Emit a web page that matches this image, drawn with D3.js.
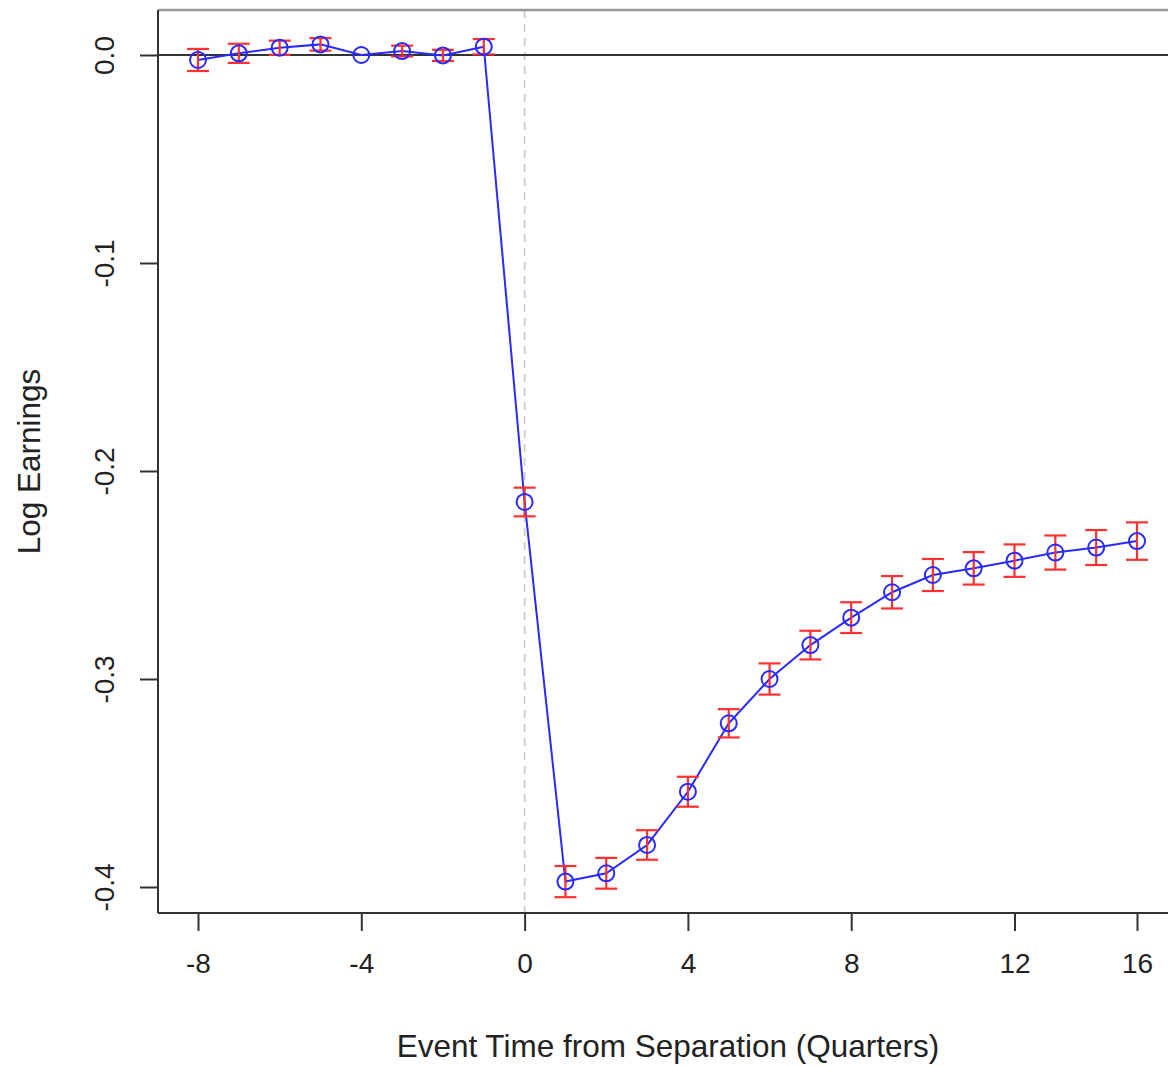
<!DOCTYPE html>
<html>
<head>
<meta charset="utf-8">
<script src="https://cdn.jsdelivr.net/npm/d3@7"></script>
<style>
  body { margin: 0; background: #fff; }
  text { font-family: "Liberation Sans", Arial, sans-serif; fill: #222; }
</style>
</head>
<body>
<div id="chart"></div>
<script>
// event time (quarters) and estimates
const eventTime = [-8, -7, -6, -5, -4, -3, -2, -1, 0, 1, 2, 3, 4, 5, 6, 7, 8, 9, 10, 11, 12, 13, 14, 15];
const coef = [-0.0024, 0.0008, 0.0035, 0.0051, 0.0, 0.0019, -0.0002, 0.0040,
  -0.2149, -0.3974, -0.3934, -0.3798, -0.3542, -0.3213, -0.3000, -0.2837,
  -0.2705, -0.2583, -0.2500, -0.2468, -0.2431, -0.2392, -0.2368, -0.2337];
const halfCI = [0.0053, 0.0046, 0.0034, 0.0030, 0, 0.0026, 0.0027, 0.0037,
  0.0069, 0.0075, 0.0074, 0.0071, 0.0072, 0.0068, 0.0075, 0.0069,
  0.0074, 0.0078, 0.0077, 0.0078, 0.0078, 0.0082, 0.0084, 0.0090];
const xTickAt = [-8, -4, 0, 4, 8, 12, 15];
const xTickLabels = ['-8', '-4', '0', '4', '8', '12', '16'];
const yTicks = [0.0, -0.1, -0.2, -0.3, -0.4];

const data = eventTime.map((t, i) => ({ t: t, v: coef[i], e: halfCI[i] }));

const width = 1168, height = 1066;
const box = { left: 158, top: 10, right: 1185, bottom: 913 };

const svg = d3.select('#chart')
  .append('svg')
  .attr('width', width)
  .attr('height', height);

const x = d3.scaleLinear().domain([-8, 15]).range([198, 1137]);
const y = d3.scaleLinear().domain([-0.4125, 0.02163]).range([box.bottom, box.top]);

// dashed line at separation
svg.append('line')
  .attr('x1', x(0)).attr('x2', x(0))
  .attr('y1', box.top).attr('y2', box.bottom)
  .attr('stroke', '#c8c8c8')
  .attr('stroke-width', 1.6)
  .attr('stroke-dasharray', '8,6');

// zero line
svg.append('line')
  .attr('x1', box.left).attr('x2', box.right)
  .attr('y1', y(0)).attr('y2', y(0))
  .attr('stroke', '#333')
  .attr('stroke-width', 2);

// plot frame
svg.append('line')
  .attr('x1', box.left).attr('x2', box.right)
  .attr('y1', box.top).attr('y2', box.top)
  .attr('stroke', '#999').attr('stroke-width', 2.5);
svg.append('line')
  .attr('x1', box.left).attr('x2', box.left)
  .attr('y1', box.top).attr('y2', box.bottom)
  .attr('stroke', '#333').attr('stroke-width', 2);
svg.append('line')
  .attr('x1', box.left).attr('x2', box.right)
  .attr('y1', box.bottom).attr('y2', box.bottom)
  .attr('stroke', '#333').attr('stroke-width', 2);

// x axis
const xAxis = svg.append('g')
  .attr('transform', `translate(0,${box.bottom})`)
  .call(d3.axisBottom(x)
    .tickValues(xTickAt)
    .tickFormat((d, i) => xTickLabels[i])
    .tickSize(18)
    .tickPadding(22));
xAxis.select('.domain').remove();
xAxis.selectAll('line').attr('stroke', '#333').attr('stroke-width', 2);
xAxis.selectAll('text').attr('font-size', 28).attr('fill', '#222')
  .attr('font-family', '"Liberation Sans", Arial, sans-serif');

// y axis
const yAxis = svg.append('g')
  .attr('transform', `translate(${box.left},0)`)
  .call(d3.axisLeft(y)
    .tickValues(yTicks)
    .tickFormat(d => d.toFixed(1))
    .tickSize(18));
yAxis.select('.domain').remove();
yAxis.selectAll('line').attr('stroke', '#333').attr('stroke-width', 2);
yAxis.selectAll('text')
  .attr('font-size', 28).attr('fill', '#222')
  .attr('font-family', '"Liberation Sans", Arial, sans-serif')
  .attr('text-anchor', 'middle')
  .attr('dy', null)
  .attr('x', null)
  .attr('dominant-baseline', 'central')
  .attr('transform', 'translate(-54,0) rotate(-90)');

// axis titles
svg.append('text')
  .attr('x', 668).attr('y', 1046)
  .attr('text-anchor', 'middle')
  .attr('dominant-baseline', 'central')
  .attr('font-size', 31.5)
  .text('Event Time from Separation (Quarters)');

svg.append('text')
  .attr('transform', `translate(29,${(box.top + box.bottom) / 2}) rotate(-90)`)
  .attr('text-anchor', 'middle')
  .attr('dominant-baseline', 'central')
  .attr('font-size', 31.5)
  .text('Log Earnings');

// connecting line
svg.append('path')
  .datum(data)
  .attr('fill', 'none')
  .attr('stroke', '#2a2aff')
  .attr('stroke-width', 2)
  .attr('d', d3.line().x(d => x(d.t)).y(d => y(d.v)));

// error bars
const bars = svg.append('g')
  .attr('stroke', '#ff3030')
  .attr('stroke-width', 2.2)
  .selectAll('g')
  .data(data.filter(d => d.e > 0))
  .join('g');
bars.append('line')
  .attr('x1', d => x(d.t)).attr('x2', d => x(d.t))
  .attr('y1', d => y(d.v + d.e)).attr('y2', d => y(d.v - d.e));
bars.append('line')
  .attr('x1', d => x(d.t) - 11).attr('x2', d => x(d.t) + 11)
  .attr('y1', d => y(d.v + d.e)).attr('y2', d => y(d.v + d.e));
bars.append('line')
  .attr('x1', d => x(d.t) - 11).attr('x2', d => x(d.t) + 11)
  .attr('y1', d => y(d.v - d.e)).attr('y2', d => y(d.v - d.e));

// points
svg.append('g')
  .selectAll('circle')
  .data(data)
  .join('circle')
  .attr('cx', d => x(d.t))
  .attr('cy', d => y(d.v))
  .attr('r', 8)
  .attr('fill', 'none')
  .attr('stroke', '#2a2aff')
  .attr('stroke-width', 2);
</script>
</body>
</html>
